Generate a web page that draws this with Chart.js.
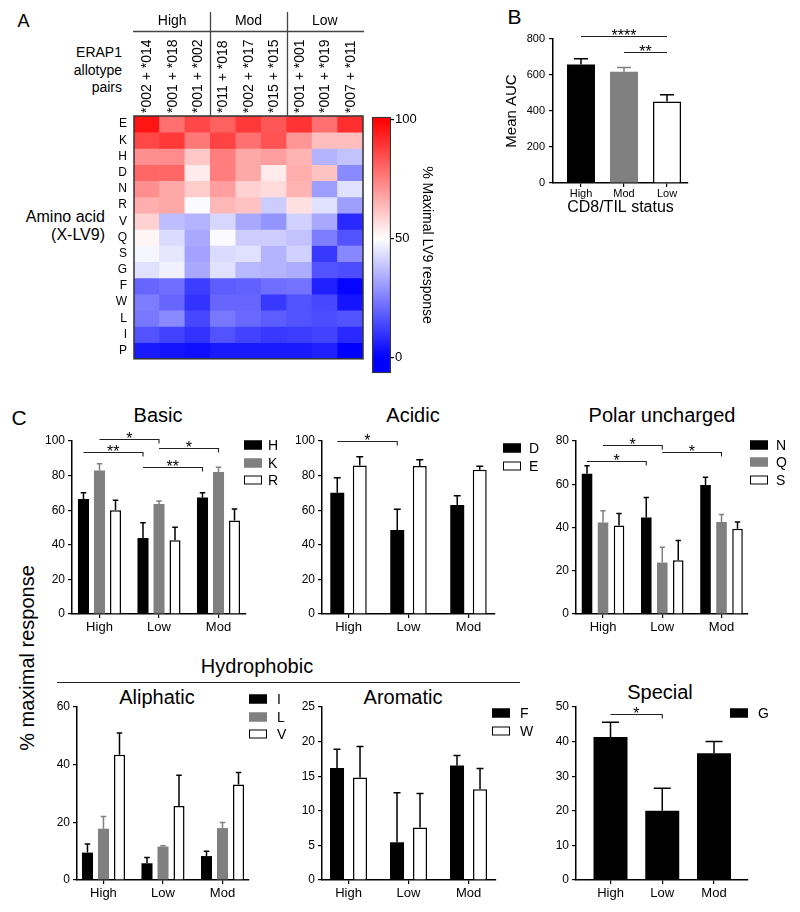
<!DOCTYPE html>
<html><head><meta charset="utf-8"><title>ERAP1 allotype pairs and X-LV9 responses</title>
<script src="https://cdn.jsdelivr.net/npm/chart.js@4.4.1/dist/chart.umd.min.js"></script>
<style>
html,body{margin:0;padding:0;background:#fff}
body{position:relative;width:800px;height:912px;overflow:hidden;font-family:"Liberation Sans",Arial,Helvetica,sans-serif;color:#000}
canvas{position:absolute}
.t{position:absolute;white-space:nowrap;line-height:1;transform:translate(-50%,-50%)}
.t.r{transform:translate(-100%,-50%)}
.t.v{transform:translate(-50%,-50%) rotate(-90deg)}
.lg{position:absolute;box-sizing:border-box;width:18px;height:9px;transform:translateY(-50%)}
.lt{position:absolute;white-space:nowrap;font-size:14px;line-height:1;transform:translateY(-50%)}
.hl{position:absolute;height:0;border-top:1.3px solid #222}
</style></head><body>
<div class="t" style="left:23.5px;top:21px;font-size:18px">A</div>
<div class="t" style="left:514.5px;top:15.5px;font-size:21px">B</div>
<div class="t" style="left:19px;top:416.5px;font-size:21px">C</div>
<div class="t r" style="left:122px;top:52px;font-size:14px">ERAP1</div>
<div class="t r" style="left:122px;top:70px;font-size:14px">allotype</div>
<div class="t r" style="left:122px;top:87px;font-size:14px">pairs</div>
<div class="t r" style="left:105px;top:217px;font-size:16px">Amino acid</div>
<div class="t r" style="left:105px;top:235px;font-size:16px">(X-LV9)</div>
<div class="t v" style="left:27px;top:658px;font-size:20px">% maximal response</div>
<div class="t" style="left:158px;top:414.5px;font-size:20px">Basic</div>
<div class="t" style="left:413px;top:414.5px;font-size:20px">Acidic</div>
<div class="t" style="left:662px;top:414.5px;font-size:20px">Polar uncharged</div>
<div class="t" style="left:257px;top:666px;font-size:20px">Hydrophobic</div>
<div class="hl" style="left:57px;top:682px;width:463px"></div>
<div class="t" style="left:157px;top:697px;font-size:20px">Aliphatic</div>
<div class="t" style="left:403px;top:697px;font-size:20px">Aromatic</div>
<div class="t" style="left:660px;top:692px;font-size:20px">Special</div>
<script>
// ================= DATA =================
// Panel A: heatmap
const allotypePairs = ['*002 + *014','*001 + *018','*001 + *002','*011 + *018','*002 + *017','*015 + *015','*001 + *001','*001 + *019','*007 + *011'];
const pairStatusGroups = ['High','Mod','Low'];
const pairsPerGroup = [3,3,3];
const aminoAcids = ['E','K','H','D','N','R','V','Q','S','G','F','W','L','I','P'];
// % maximal LV9 response, one row per amino acid, columns follow allotypePairs
const heatByAminoAcid = [
  [96,78,86,81,89,83,90,78,91],      // E
  [86,89,76.5,87,78,84,70.5,63,63],  // K
  [72,72.5,61,75.5,67,69,65,35,38],  // H
  [80,80,54,75.5,67,54,66,62,27],    // D
  [72,67,60,69,59,57,65,31,44],      // N
  [66,67,49,64,62,40,56,44,31],      // R
  [59,37,35,42,33,29,41,33,8],       // V
  [52,43,33,49,40,40,38,24.5,16],    // Q
  [48,45,32,43,44,35,41,11,26.5],    // S
  [44,47,33,44,36,35,34,16,15],      // G
  [20,21.5,12,18,19,21.5,22.5,6,1],  // F
  [24.5,20,10,20,20,11,16,14,4],     // W
  [23.5,27,14,23.5,20.5,18,16,15,16],// L
  [16,13,10,16,13,11,12,13,8],       // I
  [5,4,3,5,5,5,5,6,0]                // P
];
const colorbarTicks = [0,50,100];
const colorbarSpan = [-6.7,101.3];
const colorStops = [[0,[0,0,255]],[50,[255,255,255]],[100,[255,0,0]]];

// Panel B
const tilStatus = ['High','Mod','Low'];
const meanAUC = [659,618,453];
const meanAUCUpper = [690,642,490];
const aucSig = [[0,0,2,816,'****'],[0,1,2,729,'**']];

// Panel C
const tilGroupsC = ['High','Low','Mod'];
const basicH = [66.5,43.9,67.4], basicHUpper = [70.1,52.8,70.1];
const basicK = [82.9,63.6,82.1], basicKUpper = [86.9,65.3,84.8];
const basicR = [59.9,42.6,54.0], basicRUpper = [65.7,50.1,60.7];
const basicSig = [[0,0,1,93.6,'**'],[1,0,1,101.3,'*'],[1,1,2,96,'*'],[0,1,2,85,'**']];
const acidicD = [70.1,48.6,63.0], acidicDUpper = [78.8,60.5,68.4];
const acidicE = [85.9,85.5,83.4], acidicEUpper = [90.9,89.2,85.4];
const acidicSig = [[0,0,1,100,'*']];
const polarN = [64.9,44.6,59.6], polarNUpper = [68.6,53.9,63.2];
const polarQ = [42.3,23.8,42.6], polarQUpper = [47.7,30.9,46.0];
const polarS = [40.9,24.9,39.4], polarSUpper = [46.5,34.0,42.6];
const polarSig = [[0,0,1,70.9,'*'],[1,0,1,78.3,'*'],[1,1,2,74.9,'*']];
const aliphaticI = [9.5,5.8,8.3], aliphaticIUpper = [12.5,7.8,10.0];
const aliphaticL = [17.8,11.6,18.0], aliphaticLUpper = [22.0,11.9,19.9];
const aliphaticV = [43.4,25.7,33.1], aliphaticVUpper = [51.0,36.3,37.3];
const aromaticF = [16.2,5.45,16.55], aromaticFUpper = [18.9,12.6,18.0];
const aromaticW = [14.8,7.6,13.1], aromaticWUpper = [19.3,12.5,16.1];
const specialG = [41.3,20.0,36.6], specialGUpper = [45.6,26.5,40.0];
const specialSig = [[0,0,1,47.9,'*']];

// ================= STYLE / HELPERS =================
const FONT = '"Liberation Sans", Arial, Helvetica, sans-serif';
Chart.defaults.font.family = FONT;
Chart.defaults.font.size = 12;
Chart.defaults.color = '#000';
Chart.defaults.animation = false;

const STYLE = {
  black:{bg:'#000000',border:'#000000',bw:0,err:'#000000'},
  gray:{bg:'#808080',border:'#808080',bw:0,err:'#808080'},
  white:{bg:'#ffffff',border:'#000000',bw:1.5,err:'#000000'}
};

function heatColor(v){
  for (let i=1;i<colorStops.length;i++){
    const [v0,c0]=colorStops[i-1],[v1,c1]=colorStops[i];
    if (v<=v1 || i===colorStops.length-1){
      const t=Math.max(0,Math.min(1,(v-v0)/(v1-v0)));
      const c=c0.map((a,k)=>Math.round(a+(c1[k]-a)*t));
      return `rgb(${c[0]},${c[1]},${c[2]})`;
    }
  }
}

function placeCanvas(id,left,top,width,height){
  const c=document.createElement('canvas');
  c.id=id;c.width=width;c.height=height;
  c.style.left=left+'px';c.style.top=top+'px';c.style.width=width+'px';c.style.height=height+'px';
  document.body.appendChild(c);return c;
}

const errorBarPlugin = {
  id:'errorBars',
  afterDatasetsDraw(chart){
    const ctx=chart.ctx;
    chart.data.datasets.forEach((ds,di)=>{
      if(!ds.upper) return;
      const meta=chart.getDatasetMeta(di);
      const ys=chart.scales[meta.yAxisID];
      meta.data.forEach((bar,i)=>{
        const top=ys.getPixelForValue(ds.upper[i]);
        const col=Array.isArray(ds.errColor)?ds.errColor[i]:ds.errColor;
        const half=bar.width*0.25;
        ctx.save();ctx.strokeStyle=col;ctx.lineWidth=1.5;
        ctx.beginPath();ctx.moveTo(bar.x,bar.y);ctx.lineTo(bar.x,top);
        ctx.moveTo(bar.x-half,top);ctx.lineTo(bar.x+half,top);ctx.stroke();ctx.restore();
      });
    });
  }
};
const bracketPlugin = {
  id:'sigBrackets',
  defaults:{items:[],drop:4},
  afterDraw(chart,args,opts){
    const items=opts.items||[];if(!items.length) return;
    const ctx=chart.ctx, ys=chart.scales.y;
    ctx.save();ctx.strokeStyle='#222';ctx.fillStyle='#000';ctx.lineWidth=1.1;
    ctx.font='16px '+FONT;ctx.textAlign='center';ctx.textBaseline='alphabetic';
    items.forEach(([di,a,b,yv,text])=>{
      const meta=chart.getDatasetMeta(di);
      const x1=meta.data[a].x,x2=meta.data[b].x;
      const y=Math.round(ys.getPixelForValue(yv))+0.5;
      ctx.beginPath();ctx.moveTo(x1,y);ctx.lineTo(x2,y);if(opts.drop) ctx.lineTo(x2,y+opts.drop);ctx.stroke();
      ctx.fillText(text,(x1+x2)/2,y+4.5);
    });
    ctx.restore();
  }
};
Chart.register(errorBarPlugin,bracketPlugin);

function barPanel(id,box,o){
  const yW=o.yW||40,xH=o.xH||24,padT=o.padT||22,padR=4;
  const left=box.l-yW,top=box.t-padT;
  const cv=placeCanvas(id,left,top,box.r-left+padR,box.b+xH-top);
  const pick=(s,key)=>Array.isArray(s.style)?s.style.map(k=>STYLE[k][key]):STYLE[s.style][key];
  return new Chart(cv,{
    type:'bar',
    data:{datasets:o.series.map(s=>({
      label:s.label,
      data:s.values.map((v,i)=>({x:i,y:v})),
      upper:s.upper,
      backgroundColor:pick(s,'bg'),borderColor:pick(s,'border'),borderWidth:pick(s,'bw'),
      errColor:pick(s,'err'),
      barPercentage:o.barPct,categoryPercentage:o.catPct
    }))},
    options:{
      responsive:false,animation:false,devicePixelRatio:1,
      layout:{padding:{top:padT,right:padR,left:0,bottom:0}},
      plugins:{legend:{display:false},tooltip:{enabled:false},title:{display:false},
        sigBrackets:{items:o.sig||[],drop:(o.drop===undefined?4:o.drop)}},
      scales:{
        x:{type:'linear',offset:false,min:o.xMin,max:o.xMax,
          afterBuildTicks:s=>{s.ticks=o.groups.map((_,i)=>({value:i}));},
          ticks:{callback:v=>o.groups[v]!==undefined?o.groups[v]:'',font:{size:o.xFont||13},color:'#000',padding:(o.xPad===undefined?2:o.xPad),autoSkip:false,maxRotation:0},
          grid:{display:true,drawOnChartArea:false,drawTicks:true,tickLength:4,color:'#000',lineWidth:1.2,offset:false},
          border:{display:true,color:'#000',width:1.5},
          title:o.xTitle?{display:true,text:o.xTitle,font:{size:16},padding:0,color:'#000'}:{display:false},
          afterFit:s=>{s.height=xH;}
        },
        y:{min:0,max:o.yMax,
          ticks:{stepSize:o.yStep,font:{size:o.yFont||12},color:'#000',padding:(o.yPad===undefined?3:o.yPad)},
          grid:{display:true,drawOnChartArea:false,drawTicks:true,tickLength:4,color:'#000',lineWidth:1.2},
          border:{display:true,color:'#000',width:1.5},
          title:o.yTitle?{display:true,text:o.yTitle,font:{size:15},padding:0,color:'#000'}:{display:false},
          afterFit:s=>{s.width=yW;}
        }
      }
    }
  });
}

function htmlLegend(chart,boxX,textX,y0,step){
  chart.data.datasets.forEach((ds,i)=>{
    const y=y0+i*step;
    const b=document.createElement('div');b.className='lg';
    b.style.left=boxX+'px';b.style.top=y+'px';b.style.background=ds.backgroundColor;
    b.style.border='1.3px solid '+ds.borderColor;
    document.body.appendChild(b);
    const t=document.createElement('div');t.className='lt';
    t.style.left=textX+'px';t.style.top=y+'px';t.textContent=ds.label;
    document.body.appendChild(t);
  });
}

// ================= PANEL A: HEATMAP =================
const heatHeaderPlugin = {
  id:'heatHeader',
  afterDraw(chart){
    const {ctx,chartArea:a,scales:{x}}=chart;
    ctx.save();
    ctx.strokeStyle='#333';ctx.lineWidth=1.5;
    ctx.strokeRect(a.left,a.top,a.right-a.left,a.bottom-a.top);
    const half=(x.getPixelForValue(1)-x.getPixelForValue(0))/2;
    // column (allotype pair) labels, read bottom-to-top
    ctx.font='14px '+FONT;ctx.fillStyle='#000';ctx.textAlign='left';ctx.textBaseline='middle';
    chart.data.labels.forEach((lab,i)=>{
      ctx.save();ctx.translate(x.getPixelForValue(i)+0.5,a.top-3);ctx.rotate(-Math.PI/2);
      ctx.fillText(lab,0,0);ctx.restore();
    });
    // status group header
    ctx.strokeStyle='#444';ctx.lineWidth=1.3;
    ctx.beginPath();ctx.moveTo(a.left-1,31.5);ctx.lineTo(a.right+1,31.5);ctx.stroke();
    ctx.textAlign='center';
    let start=0;
    pairStatusGroups.forEach((g,gi)=>{
      const n=pairsPerGroup[gi];
      const x0=x.getPixelForValue(start)-half,x1=x.getPixelForValue(start+n-1)+half;
      ctx.fillText(g,(x0+x1)/2,21);
      if(gi<pairStatusGroups.length-1){
        ctx.beginPath();ctx.moveTo(Math.round(x1)+0.5,12);ctx.lineTo(Math.round(x1)+0.5,a.top);ctx.stroke();
      }
      start+=n;
    });
    ctx.restore();
  }
};
(function(){
  const box={l:134,t:116,r:363,b:371};
  const yW=34,xH=80,padT=36,padR=4,padB=2;
  const left=box.l-yW,top=box.t-xH-padT;
  const cv=placeCanvas('heatmap',left,top,box.r-left+padR,box.b+padB-top);
  new Chart(cv,{
    type:'bar',
    data:{labels:allotypePairs,datasets:aminoAcids.map((aa,r)=>({
      label:aa,data:allotypePairs.map(()=>1),
      backgroundColor:heatByAminoAcid[r].map(heatColor),
      borderWidth:0,barPercentage:1,categoryPercentage:1}))},
    options:{
      responsive:false,animation:false,devicePixelRatio:1,
      layout:{padding:{top:padT,right:padR,bottom:padB,left:0}},
      plugins:{legend:{display:false},tooltip:{enabled:false}},
      scales:{
        x:{position:'top',stacked:true,offset:true,grid:{display:false,drawTicks:false},border:{display:false},
          ticks:{display:false},
          afterFit:s=>{s.height=xH;}},
        y:{stacked:true,reverse:true,min:0,max:aminoAcids.length,grid:{display:false,drawTicks:false},border:{display:false},
          afterBuildTicks:s=>{s.ticks=aminoAcids.map((_,i)=>({value:i+0.5}));},
          ticks:{autoSkip:false,callback:v=>aminoAcids[Math.floor(v)],font:{size:12},color:'#000',padding:7},
          afterFit:s=>{s.width=yW;}}
      }
    },
    plugins:[heatHeaderPlugin]
  });
})();

// Colour bar
(function(){
  const box={l:372,t:116,r:391,b:374};
  const W=44,padL=2,padT=8,padB=8;
  const cv=placeCanvas('colorbar',box.l-padL,box.t-padT,padL+(box.r-box.l)+W,(box.b-box.t)+padT+padB);
  new Chart(cv,{
    type:'bar',
    data:{labels:[''],datasets:[{label:'% Maximal LV9 response',data:[colorbarSpan],
      backgroundColor:(c)=>{
        const ch=c.chart,ys=ch.scales.y;
        if(!ys||!ch.chartArea) return '#ffffff';
        const p0=ys.getPixelForValue(colorStops[0][0]),p1=ys.getPixelForValue(colorStops[colorStops.length-1][0]);
        const g=ch.ctx.createLinearGradient(0,p0,0,p1);
        colorStops.forEach(([v,col])=>g.addColorStop((v-colorStops[0][0])/(colorStops[colorStops.length-1][0]-colorStops[0][0]),`rgb(${col[0]},${col[1]},${col[2]})`));
        return g;
      },
      borderColor:'#333',borderWidth:1.5,borderSkipped:false,barPercentage:1,categoryPercentage:1}]},
    options:{
      responsive:false,animation:false,devicePixelRatio:1,
      layout:{padding:{left:padL,top:padT,bottom:padB,right:0}},
      plugins:{legend:{display:false},tooltip:{enabled:false}},
      scales:{
        x:{display:false},
        y:{position:'right',min:colorbarSpan[0],max:colorbarSpan[1],
          afterBuildTicks:s=>{s.ticks=colorbarTicks.map(v=>({value:v}));},
          ticks:{font:{size:13},color:'#000',padding:1},
          grid:{display:true,drawOnChartArea:false,drawTicks:true,tickLength:3,color:'#000',lineWidth:1.2},
          border:{display:false},
          title:{display:true,text:'% Maximal LV9 response',font:{size:14},padding:0,color:'#000'},
          afterFit:s=>{s.width=W;}}
      }
    }
  });
})();

// ================= PANEL B =================
barPanel('panelB',{l:553,t:39,r:688,b:183},{
  groups:tilStatus,yW:50,xH:34,padT:39,xMin:-0.651,xMax:2.488,yMax:800,yStep:200,
  xFont:11,yFont:11,xPad:0,yPad:4,xTitle:'CD8/TIL status',yTitle:'Mean AUC',
  barPct:0.651,catPct:1,drop:0,sig:aucSig,
  series:[{label:'Mean AUC',values:meanAUC,upper:meanAUCUpper,style:['black','gray','white']}]
});

// ================= PANEL C =================
const basicChart = barPanel('basic',{l:72,t:441,r:246,b:614},{
  groups:tilGroupsC,xMin:-0.462,xMax:2.462,yMax:100,yStep:20,barPct:0.69,catPct:0.807,sig:basicSig,
  series:[{label:'H',values:basicH,upper:basicHUpper,style:'black'},
          {label:'K',values:basicK,upper:basicKUpper,style:'gray'},
          {label:'R',values:basicR,upper:basicRUpper,style:'white'}]
});
htmlLegend(basicChart,244,268,445,17.5);

const acidicChart = barPanel('acidic',{l:322,t:441,r:495,b:614},{
  groups:tilGroupsC,xMin:-0.442,xMax:2.442,yMax:100,yStep:20,barPct:0.62,catPct:0.75,sig:acidicSig,
  series:[{label:'D',values:acidicD,upper:acidicDUpper,style:'black'},
          {label:'E',values:acidicE,upper:acidicEUpper,style:'white'}]
});
htmlLegend(acidicChart,503,529,448,18);

const polarChart = barPanel('polar',{l:576,t:441,r:748,b:614},{
  groups:tilGroupsC,xMin:-0.456,xMax:2.447,yMax:80,yStep:20,barPct:0.66,catPct:0.81,sig:polarSig,
  series:[{label:'N',values:polarN,upper:polarNUpper,style:'black'},
          {label:'Q',values:polarQ,upper:polarQUpper,style:'gray'},
          {label:'S',values:polarS,upper:polarSUpper,style:'white'}]
});
htmlLegend(polarChart,750,776,444.5,17.8);

const aliphaticChart = barPanel('aliphatic',{l:77,t:707,r:249,b:880},{
  groups:tilGroupsC,xMin:-0.445,xMax:2.445,yMax:60,yStep:20,barPct:0.69,catPct:0.807,
  series:[{label:'I',values:aliphaticI,upper:aliphaticIUpper,style:'black'},
          {label:'L',values:aliphaticL,upper:aliphaticLUpper,style:'gray'},
          {label:'V',values:aliphaticV,upper:aliphaticVUpper,style:'white'}]
});
htmlLegend(aliphaticChart,249,277,699,17.5);

const aromaticChart = barPanel('aromatic',{l:322,t:707,r:496,b:880},{
  groups:tilGroupsC,xMin:-0.442,xMax:2.458,yMax:25,yStep:5,barPct:0.61,catPct:0.767,
  series:[{label:'F',values:aromaticF,upper:aromaticFUpper,style:'black'},
          {label:'W',values:aromaticW,upper:aromaticWUpper,style:'white'}]
});
htmlLegend(aromaticChart,492,520,713,17.5);

const specialChart = barPanel('special',{l:576,t:707,r:748,b:880},{
  groups:tilGroupsC,xMin:-0.667,xMax:2.657,yMax:50,yStep:10,barPct:0.657,catPct:1,sig:specialSig,
  series:[{label:'G',values:specialG,upper:specialGUpper,style:'black'}]
});
htmlLegend(specialChart,730,758,713,17.5);
</script>
</body></html>
